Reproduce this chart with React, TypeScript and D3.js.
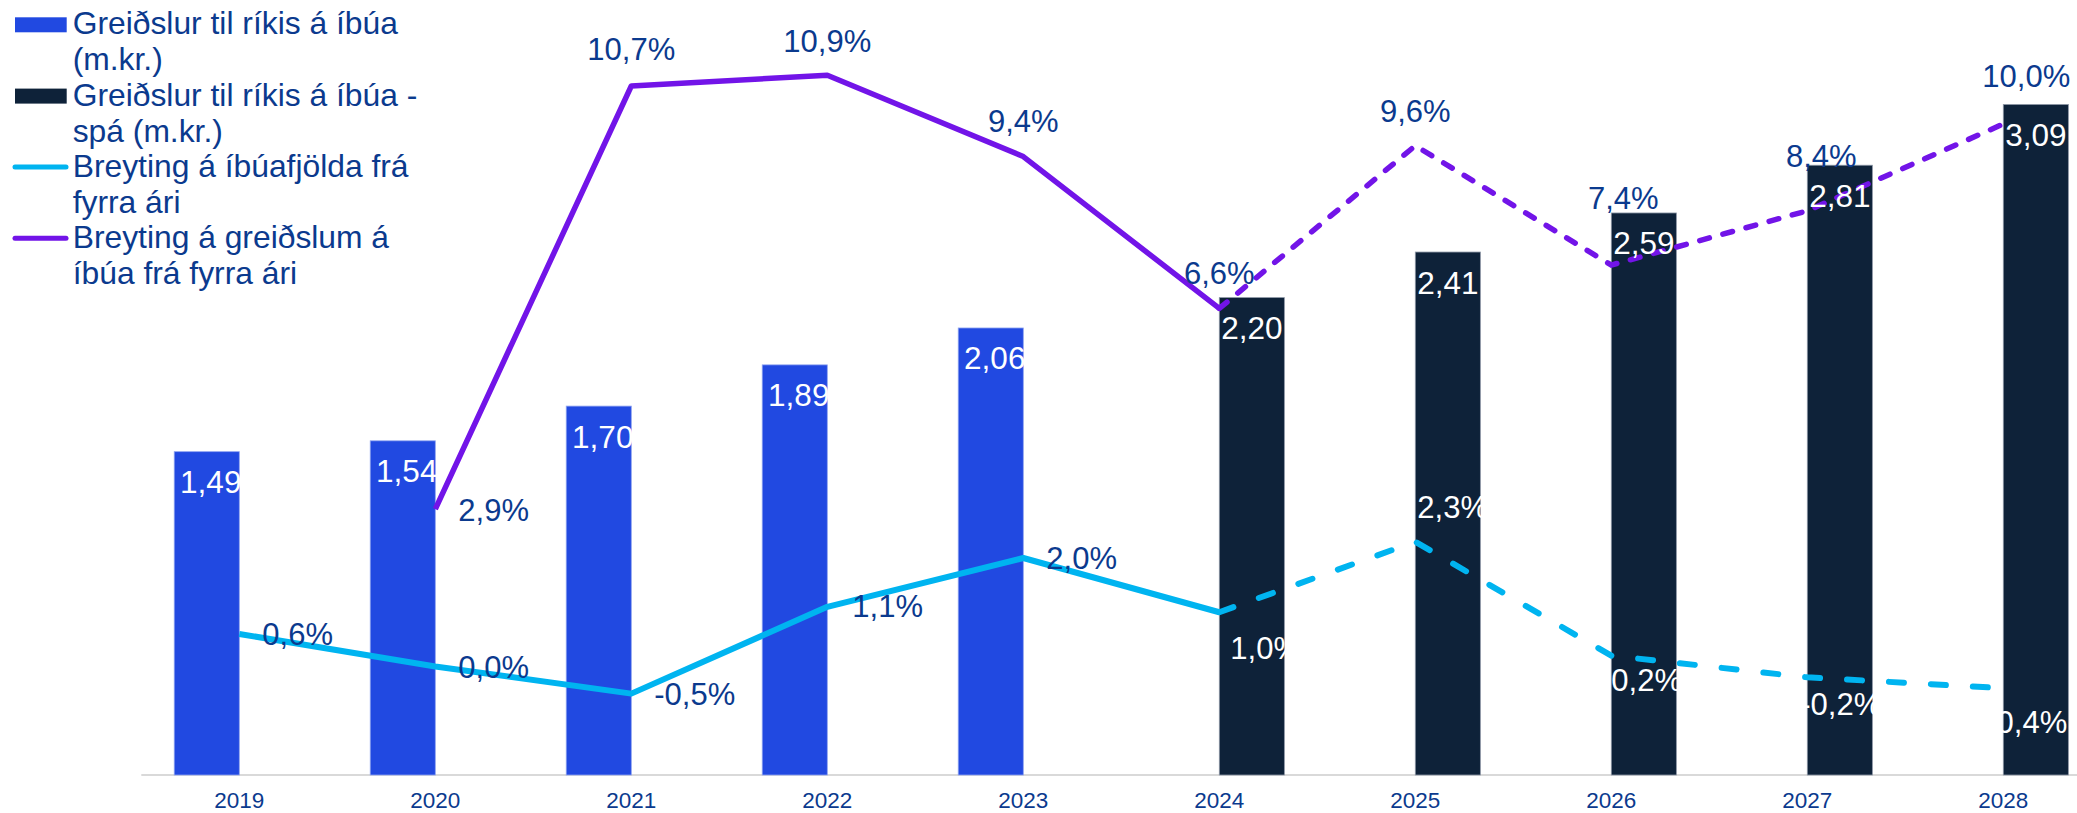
import React from "react";
import * as d3 from "d3";

// ---- data ----
const years = ["2019", "2020", "2021", "2022", "2023", "2024", "2025", "2026", "2027", "2028"];
const paymentsActual: (number | null)[] = [1.49, 1.54, 1.7, 1.89, 2.06, null, null, null, null, null];
const paymentsForecast: (number | null)[] = [null, null, null, null, null, 2.2, 2.41, 2.59, 2.81, 3.09];
const popChange: (number | null)[] = [0.6, 0.0, -0.5, 1.1, 2.0, 1.0, 2.3, 0.2, -0.2, -0.4];
const paymentChange: (number | null)[] = [null, 2.9, 10.7, 10.9, 9.4, 6.6, 9.6, 7.4, 8.4, 10.0];
const forecastStart = 5; // index of 2024, where forecast (dashed) begins

const legendItems = [
  { kind: "rect", color: "#2149E1", lines: ["Greiðslur til ríkis á íbúa", "(m.kr.)"] },
  { kind: "rect", color: "#0E2239", lines: ["Greiðslur til ríkis á íbúa -", "spá (m.kr.)"] },
  { kind: "line", color: "#00B4F0", lines: ["Breyting á íbúafjölda frá", "fyrra ári"] },
  { kind: "line", color: "#7214E8", lines: ["Breyting á greiðslum á", "íbúa frá fyrra ári"] },
];

// label placement (style config, offsets from the point)
type Place = { dx: number; dy: number; anchor: "start" | "middle"; fill: string } | null;
const NAVY = "#0B3A8E";
const WHITE = "#FFFFFF";
const popLabelPlace: Place[] = [
  { dx: 23, dy: 11, anchor: "start", fill: NAVY },
  { dx: 23, dy: 11, anchor: "start", fill: NAVY },
  { dx: 23, dy: 11, anchor: "start", fill: NAVY },
  { dx: 25, dy: 10, anchor: "start", fill: NAVY },
  { dx: 23, dy: 11, anchor: "start", fill: NAVY },
  { dx: 11, dy: 47, anchor: "start", fill: WHITE },
  { dx: 2, dy: -24, anchor: "start", fill: WHITE },
  { dx: 0, dy: 35, anchor: "start", fill: WHITE },
  { dx: -7, dy: 38, anchor: "start", fill: WHITE },
  { dx: -17, dy: 45, anchor: "start", fill: WHITE },
];
const payLabelPlace: Place[] = [
  null,
  { dx: 23, dy: 12, anchor: "start", fill: NAVY },
  { dx: 0, dy: -26, anchor: "middle", fill: NAVY },
  { dx: 0, dy: -23, anchor: "middle", fill: NAVY },
  { dx: 0, dy: -25, anchor: "middle", fill: NAVY },
  { dx: 0, dy: -24, anchor: "middle", fill: NAVY },
  { dx: 0, dy: -24, anchor: "middle", fill: NAVY },
  { dx: 12, dy: -56, anchor: "middle", fill: NAVY },
  { dx: 14, dy: -44, anchor: "middle", fill: NAVY },
  { dx: 23, dy: -37, anchor: "middle", fill: NAVY },
];

const W = 2077;
const H = 813;
const FONT = "'Liberation Sans', Arial, Helvetica, sans-serif";

const locale = d3.formatLocale({
  decimal: ",",
  thousands: ".",
  grouping: [3],
  currency: ["", " kr."],
  minus: "-",
});
const fmtBar = locale.format(".2f");
const fmtPct = (v: number) => locale.format(".1f")(v) + "%";

export default function App() {
  const plotTop = 15.5;
  const plotBottom = 775;
  const x = d3.scalePoint<string>().domain(years).range([141.3, 2101.3]).padding(0.5);
  const step = x.step();
  const barW = step * 0.332;
  const yL = d3.scaleLinear().domain([0, 3.5]).range([plotBottom, plotTop]);
  const yR = d3.scaleLinear().domain([-2, 12]).range([plotBottom, plotTop]);

  const cx = (i: number) => x(years[i]) as number;

  type Pt = { i: number; v: number | null };
  const mk = (arr: (number | null)[]) => arr.map((v, i) => ({ i, v }));
  const lineGen = d3
    .line<Pt>()
    .defined((d) => d.v !== null)
    .x((d) => cx(d.i))
    .y((d) => yR(d.v as number));

  const popPts = mk(popChange);
  const payPts = mk(paymentChange);
  const solid = (pts: Pt[]) => lineGen(pts.filter((d) => d.i <= forecastStart)) || "";
  const dashed = (pts: Pt[]) => lineGen(pts.filter((d) => d.i >= forecastStart)) || "";

  const PURPLE = "#7214E8";
  const CYAN = "#00B4F0";

  return (
    <svg
      width={W}
      height={H}
      viewBox={`0 0 ${W} ${H}`}
      style={{ position: "absolute", left: 0, top: 0, display: "block", background: "#fff" }}
      fontFamily={FONT}
    >
      <rect x={0} y={0} width={W} height={H} fill="#fff" />

      {/* axis baseline */}
      <line x1={x.range()[0]} x2={W} y1={plotBottom} y2={plotBottom} stroke="#D9D9D9" strokeWidth={2} />

      {/* bars */}
      {paymentsActual.map((v, i) =>
        v === null ? null : (
          <rect
            key={"a" + i}
            x={cx(i) - barW}
            y={yL(v)}
            width={barW}
            height={plotBottom - yL(v)}
            fill="#2149E1"
            stroke="#8FA3F0"
            strokeWidth={0.8}
          />
        )
      )}
      {paymentsForecast.map((v, i) =>
        v === null ? null : (
          <rect
            key={"f" + i}
            x={cx(i)}
            y={yL(v)}
            width={barW}
            height={plotBottom - yL(v)}
            fill="#0E2239"
            stroke="#8D97A6"
            strokeWidth={0.8}
          />
        )
      )}

      {/* lines */}
      <path d={solid(popPts)} fill="none" stroke={CYAN} strokeWidth={6} strokeLinejoin="round" />
      <path
        d={dashed(popPts)}
        fill="none"
        stroke={CYAN}
        strokeWidth={6}
        strokeLinecap="round"
        strokeDasharray="15 27"
      />
      <path d={solid(payPts)} fill="none" stroke={PURPLE} strokeWidth={5.5} strokeLinejoin="round" />
      <path
        d={dashed(payPts)}
        fill="none"
        stroke={PURPLE}
        strokeWidth={5.5}
        strokeLinecap="round"
        strokeDasharray="10 14"
      />

      {/* bar labels */}
      {paymentsActual.map((v, i) =>
        v === null ? null : (
          <text key={"la" + i} x={cx(i) - barW / 2 + 4} y={yL(v) + 41.5} textAnchor="middle" fontSize={31.5} fill="#fff">
            {fmtBar(v)}
          </text>
        )
      )}
      {paymentsForecast.map((v, i) =>
        v === null ? null : (
          <text key={"lf" + i} x={cx(i) + barW / 2} y={yL(v) + 41.5} textAnchor="middle" fontSize={31.5} fill="#fff">
            {fmtBar(v)}
          </text>
        )
      )}

      {/* line labels */}
      {popChange.map((v, i) => {
        const p = popLabelPlace[i];
        if (v === null || !p) return null;
        return (
          <text key={"lp" + i} x={cx(i) + p.dx} y={yR(v) + p.dy} textAnchor={p.anchor} fontSize={31} fill={p.fill}>
            {fmtPct(v)}
          </text>
        );
      })}
      {paymentChange.map((v, i) => {
        const p = payLabelPlace[i];
        if (v === null || !p) return null;
        return (
          <text key={"lg" + i} x={cx(i) + p.dx} y={yR(v) + p.dy} textAnchor={p.anchor} fontSize={31} fill={p.fill}>
            {fmtPct(v)}
          </text>
        );
      })}

      {/* x axis labels */}
      {years.map((yr, i) => (
        <text key={"x" + yr} x={cx(i)} y={808} textAnchor="middle" fontSize={22.5} fill={NAVY}>
          {yr}
        </text>
      ))}

      {/* legend */}
      {legendItems.map((it, k) => {
        const base = 34.3 + 71.3 * k;
        return (
          <g key={"lg" + k}>
            {it.kind === "rect" ? (
              <rect x={15} y={base - 17} width={51.7} height={15} fill={it.color} />
            ) : (
              <line x1={15} x2={66} y1={base - 10} y2={base - 10} stroke={it.color} strokeWidth={5} strokeLinecap="round" />
            )}
            {it.lines.map((t, j) => (
              <text key={j} x={72.7} y={base + 36 * j} fontSize={31.8} fill={NAVY}>
                {t}
              </text>
            ))}
          </g>
        );
      })}
    </svg>
  );
}
